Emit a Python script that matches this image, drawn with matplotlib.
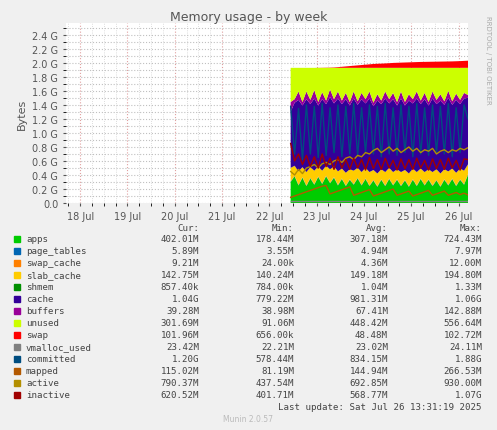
import numpy as np
import matplotlib
matplotlib.use('Agg')
import matplotlib.pyplot as plt
from matplotlib.ticker import MultipleLocator, FuncFormatter

# time in days of July, 2h steps
t0, step = 22.45, 1/12.
apps = [0.30,0.38,0.25,0.36,0.24,0.35,0.26,0.37,0.27,0.38,0.28,0.36,0.25,0.34,0.24,0.33,
        0.26,0.35,0.25,0.34,0.24,0.32,0.23,0.33,0.24,0.34,0.25,0.33,0.24,0.32,0.23,0.33,
        0.24,0.34,0.25,0.33,0.24,0.32,0.23,0.33,0.25,0.34,0.24,0.33,0.26,0.40]
n = len(apps)
t = t0 + step*np.arange(n)
page_tables = [0.006]*n
swap_cache = [0.005]*n
slab_cache = [0.19,0.14,0.19,0.14,0.19,0.15,0.19,0.14,0.18,0.14,0.19,0.15,0.19,0.14,0.18,0.14,
              0.19,0.14,0.18,0.15,0.19,0.14,0.18,0.14,0.19,0.15,0.18,0.14,0.19,0.14,0.18,0.15,
              0.19,0.14,0.18,0.14,0.19,0.15,0.18,0.14,0.19,0.14,0.18,0.15,0.19,0.14]
shmem = [0.001]*n
cache = [0.80,0.90,1.02,0.88,1.04,0.90,1.03,0.87,1.02,0.88,1.03,0.90,1.04,0.92,1.05,0.91,
         1.03,0.90,1.04,0.92,1.05,0.91,1.04,0.93,1.05,0.92,1.04,0.91,1.05,0.92,1.04,0.93,
         1.05,0.92,1.04,0.91,1.05,0.93,1.04,0.92,1.05,0.91,1.04,0.92,1.03,0.95]
buffers = [0.14,0.05,0.12,0.05,0.11,0.06,0.12,0.05,0.10,0.05,0.11,0.06,0.10,0.05,0.09,0.05,
           0.10,0.05,0.09,0.06,0.10,0.05,0.09,0.05,0.10,0.06,0.09,0.05,0.10,0.05,0.09,0.06,
           0.10,0.05,0.09,0.05,0.10,0.06,0.09,0.05,0.10,0.05,0.09,0.06,0.08,0.04]
mem_total = 1.93
swap = [0.0,0.0,0.0,0.0,0.0,0.0,0.0,0.001,0.002,0.003,0.004,0.006,0.010,0.015,0.020,0.025,
        0.030,0.035,0.040,0.045,0.050,0.055,0.058,0.060,0.063,0.066,0.070,0.072,0.074,0.076,0.078,0.080,
        0.082,0.084,0.085,0.086,0.087,0.088,0.089,0.090,0.091,0.092,0.094,0.096,0.099,0.102]
vmalloc_used = [0.023]*n
committed = [1.38,0.70,1.35,0.62,1.40,0.70,1.38,0.65,1.42,0.68,1.36,0.72,1.40,0.66,1.38,0.70,
             1.42,0.68,1.36,0.72,1.40,0.70,1.38,0.66,1.42,0.70,1.36,0.68,1.40,0.72,1.38,0.66,
             1.42,0.70,1.36,0.68,1.40,0.72,1.38,0.70,1.42,0.66,1.36,0.72,1.40,1.20]
mapped = [0.08,0.10,0.12,0.14,0.16,0.18,0.20,0.22,0.24,0.25,0.13,0.15,0.17,0.19,0.21,0.23,
          0.11,0.13,0.15,0.17,0.19,0.10,0.12,0.14,0.16,0.18,0.20,0.11,0.13,0.15,0.17,0.10,
          0.12,0.14,0.16,0.18,0.11,0.13,0.15,0.17,0.11,0.13,0.15,0.12,0.14,0.115]
active = [0.45,0.40,0.48,0.42,0.50,0.52,0.55,0.50,0.56,0.58,0.55,0.60,0.62,0.58,0.64,0.66,
          0.62,0.68,0.66,0.72,0.70,0.75,0.78,0.72,0.76,0.80,0.74,0.78,0.72,0.76,0.80,0.74,
          0.78,0.72,0.76,0.74,0.78,0.70,0.74,0.76,0.72,0.76,0.74,0.78,0.76,0.79]
inactive = [0.85,0.60,0.70,0.55,0.68,0.52,0.66,0.50,0.70,0.52,0.64,0.48,0.66,0.50,0.62,0.48,
            0.64,0.50,0.62,0.47,0.65,0.49,0.62,0.48,0.64,0.50,0.61,0.47,0.63,0.49,0.62,0.48,
            0.64,0.50,0.61,0.47,0.63,0.49,0.62,0.48,0.64,0.50,0.61,0.47,0.63,0.62]

names = ['apps','page_tables','swap_cache','slab_cache','shmem','cache','buffers','unused','swap',
         'vmalloc_used','committed','mapped','active','inactive']
colors = ['#00CC00','#0066B3','#FF8000','#FFCC00','#008F00','#330099','#990099','#CCFF00','#FF0000',
          '#808080','#004D80','#B35900','#B38F00','#A00000']
cur = ['402.01M','5.89M','9.21M','142.75M','857.40k','1.04G','39.28M','301.69M','101.96M','23.42M','1.20G','115.02M','790.37M','620.52M']
mins = ['178.44M','3.55M','24.00k','140.24M','784.00k','779.22M','38.98M','91.06M','656.00k','22.21M','578.44M','81.19M','437.54M','401.71M']
avgs = ['307.18M','4.94M','4.36M','149.18M','1.04M','981.31M','67.41M','448.42M','48.48M','23.02M','834.15M','144.94M','692.85M','568.77M']
maxs = ['724.43M','7.97M','12.00M','194.80M','1.33M','1.06G','142.88M','556.64M','102.72M','24.11M','1.88G','266.53M','930.00M','1.07G']

used = np.array(apps)+np.array(page_tables)+np.array(swap_cache)+np.array(slab_cache)+np.array(shmem)+np.array(cache)+np.array(buffers)
unused = mem_total - used
stack = [apps, page_tables, swap_cache, slab_cache, shmem, cache, buffers, unused, swap]

fig = plt.figure(figsize=(4.97, 4.31), dpi=100, facecolor='#F0F0F0')
ax = fig.add_axes([66/497, 1-204/431, 402/497, 180/431])
ax.set_facecolor('white')
ax.stackplot(t, *stack, colors=colors[:9], lw=0)
for i, s in enumerate([vmalloc_used, committed, mapped, active, inactive]):
    ax.plot(t, s, color=colors[9+i], lw=1.0)

ax.set_xlim(17.7, 26.2)
ax.set_ylim(0, 2.57)
ax.yaxis.set_major_locator(MultipleLocator(0.2))
ax.yaxis.set_minor_locator(MultipleLocator(0.1))
ax.yaxis.set_major_formatter(FuncFormatter(lambda v, p: '0.0' if v == 0 else f'{v:.1f} G'))
ax.set_xticks(np.arange(18, 27))
ax.set_xticklabels([f'{d} Jul' for d in range(18, 27)])
ax.xaxis.set_minor_locator(MultipleLocator(0.25))
ax.grid(which='major', axis='x', color='#E0A0A0', ls=':', lw=0.8)
ax.grid(which='both', axis='y', color='#C0C0C0', ls=':', lw=0.8)
ax.grid(which='minor', axis='x', color='#D0D0D0', ls=':', lw=0.6)
ax.set_axisbelow(True)
ax.tick_params(labelsize=7, colors='#555555', length=2)
for sp in ax.spines.values():
    sp.set_visible(False)
ax.set_ylabel('Bytes', fontsize=8, color='#555555')
fig.text(0.5, 1-18/431, 'Memory usage - by week', ha='center', va='center', fontsize=9, color='#555555')
fig.text(488/497, 1-60/431, 'RRDTOOL / TOBI OETIKER', rotation=270, ha='center', va='center', fontsize=5, color='#AAAAAA')

mono = dict(family='DejaVu Sans Mono', fontsize=6.6, color='#444444', va='center')
ytop = 229
fig.text(199/497, 1-ytop/431, 'Cur:', ha='right', **mono)
fig.text(294/497, 1-ytop/431, 'Min:', ha='right', **mono)
fig.text(388/497, 1-ytop/431, 'Avg:', ha='right', **mono)
fig.text(482/497, 1-ytop/431, 'Max:', ha='right', **mono)
for i, nm in enumerate(names):
    y = 1-(240+12*i)/431
    fig.patches.append(plt.Rectangle((14/497, y-3/431), 6/497, 6/431, color=colors[i], transform=fig.transFigure))
    fig.text(26/497, y, nm, ha='left', **mono)
    fig.text(199/497, y, cur[i], ha='right', **mono)
    fig.text(294/497, y, mins[i], ha='right', **mono)
    fig.text(388/497, y, avgs[i], ha='right', **mono)
    fig.text(482/497, y, maxs[i], ha='right', **mono)
fig.text(482/497, 1-408/431, 'Last update: Sat Jul 26 13:31:19 2025', ha='right', **mono)
fig.text(248/497, 1-420/431, 'Munin 2.0.57', ha='center', va='center', fontsize=5.5, color='#BBBBBB')
fig.savefig('out.png', dpi=100, facecolor=fig.get_facecolor())
